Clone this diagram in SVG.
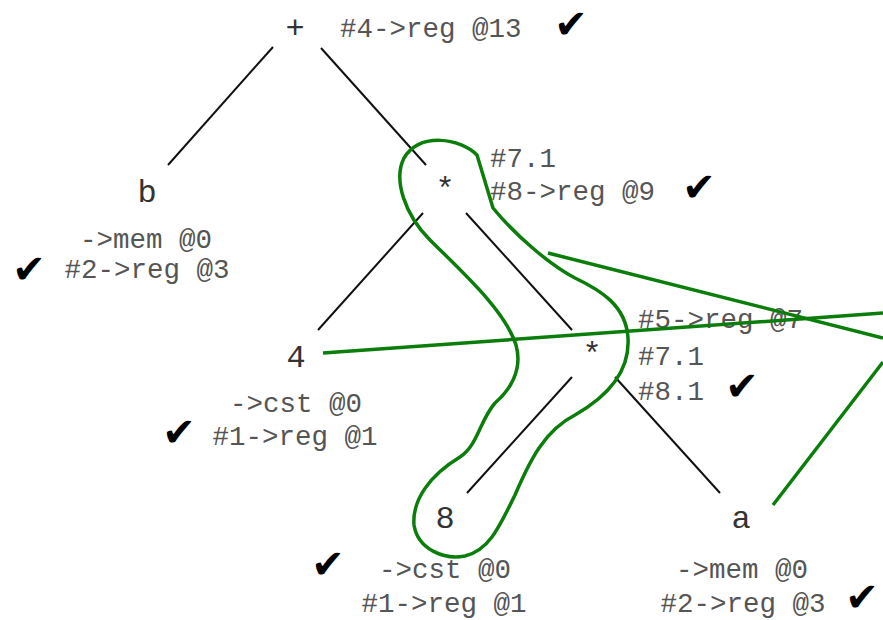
<svg xmlns="http://www.w3.org/2000/svg" width="883" height="620" viewBox="0 0 883 620">
<style>
.ann{font-family:"Liberation Mono","DejaVu Sans Mono",monospace;font-size:27.5px;fill:#555}
.lbl{font-family:"Liberation Mono","DejaVu Sans Mono",monospace;font-size:32px;fill:#333;text-anchor:middle}
.c{text-anchor:middle}
.chk{font-family:"DejaVu Sans",sans-serif;font-size:40px;fill:#000;text-anchor:middle}
.e{stroke:#111;stroke-width:2;fill:none}
.g{stroke:#0a7d0a;stroke-width:3.5;fill:none;stroke-linejoin:round}
</style>
<rect width="883" height="620" fill="#fff"/>
<g id="connectors">
<line class="e" x1="273" y1="47" x2="168" y2="165"/>
<line class="e" x1="321" y1="48" x2="426" y2="165"/>
<line class="e" x1="423" y1="213" x2="318" y2="330"/>
<line class="e" x1="466" y1="213" x2="572" y2="330"/>
<line class="e" x1="572" y1="377" x2="467" y2="493"/>
<line class="e" x1="615" y1="377" x2="720" y2="493"/>
</g>
<g id="node-plus">
<text class="lbl" x="295" y="38">+</text>
<text class="ann" x="340" y="37">#4-&gt;reg @13</text>
<text class="chk" x="571" y="38">✔</text>
</g>
<g id="node-b">
<text class="lbl" x="147" y="202">b</text>
<text class="ann c" x="146" y="248">-&gt;mem @0</text>
<text class="ann c" x="147" y="278">#2-&gt;reg @3</text>
<text class="chk" x="29" y="283">✔</text>
</g>
<g id="node-mul1">
<text class="lbl" x="445" y="199">*</text>
<text class="ann" x="490" y="167">#7.1</text>
<text class="ann" x="490" y="200">#8-&gt;reg @9</text>
<text class="chk" x="699" y="201">✔</text>
</g>
<g id="node-4">
<text class="lbl" x="296" y="367">4</text>
<text class="ann c" x="296" y="412">-&gt;cst @0</text>
<text class="ann c" x="295" y="445">#1-&gt;reg @1</text>
<text class="chk" x="179" y="446">✔</text>
</g>
<g id="node-mul2">
<text class="lbl" x="592" y="364">*</text>
<text class="ann" x="638" y="328">#5-&gt;reg @7</text>
<text class="ann" x="638" y="365">#7.1</text>
<text class="ann" x="638" y="400">#8.1</text>
<text class="chk" x="742" y="400">✔</text>
</g>
<g id="node-8">
<text class="lbl" x="445" y="528">8</text>
<text class="ann c" x="445" y="578">-&gt;cst @0</text>
<text class="ann c" x="444" y="612">#1-&gt;reg @1</text>
<text class="chk" x="328" y="578">✔</text>
</g>
<g id="node-a">
<text class="lbl" x="741" y="528">a</text>
<text class="ann c" x="742" y="578">-&gt;mem @0</text>
<text class="ann c" x="743" y="612">#2-&gt;reg @3</text>
<text class="chk" x="862" y="611">✔</text>
</g>
<g id="annotations">
<path class="g" d="M477 155 C460 138,420 132,404 158 C393 180,405 215,430 240 C460 270,505 310,516 345 C523 370,510 390,495 403 C480 420,478 445,460 457 C430 475,412 500,414 525 C418 550,445 560,465 556 C490 550,500 525,515 495 C530 460,545 430,575 415 C610 395,630 370,628 338 C626 305,600 290,575 278 C550 265,515 235,493 208 Z"/>
<line class="g" x1="323" y1="353" x2="883" y2="313"/>
<line class="g" x1="548" y1="253" x2="883" y2="338"/>
<line class="g" x1="773" y1="505" x2="883" y2="362"/>
</g>
</svg>
